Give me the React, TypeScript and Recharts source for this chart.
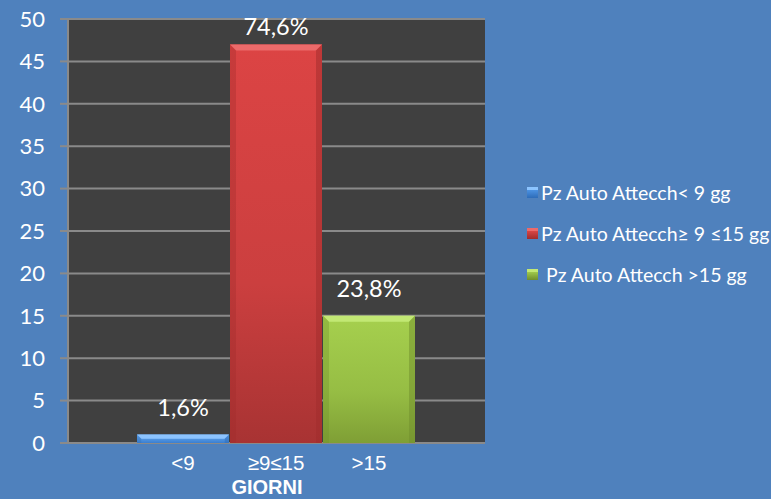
import { BarChart, Bar, XAxis, YAxis, CartesianGrid, LabelList } from "recharts";

const categories = ["<9", "≥9≤15", ">15"];
const seriesNames = ["Pz Auto Attecch< 9 gg", "Pz Auto Attecch≥ 9 ≤15 gg", " Pz Auto Attecch >15 gg"];
const counts = [1, 47, 15];
const percentLabels = ["1,6%", "74,6%", "23,8%"];
const yTicks = [0, 5, 10, 15, 20, 25, 30, 35, 40, 45, 50];

const keys = ["lt9", "mid", "gt15"];
const colors = ["#4a90e0", "#d54444", "#9dc64a"];
const lights = ["#8cc4ff", "#ec6a6a", "#c2e874"];
const darks = ["#2e6cb8", "#a02c2c", "#6f8e2c"];
const gradIds = ["gBlue", "gRed", "gGreen"];

const data = [
  keys.reduce((row: Record<string, number | string>, k, i) => {
    row[k] = counts[i];
    return row;
  }, { name: "GIORNI" }),
];

// bar with a small bevel on top and sides, like the office 3d preset
const bevelShape = (i: number) => (props: any) => {
  const { x, y, width, height } = props;
  if (!height || height <= 0) return <g />;
  const b = Math.min(6, height / 2, width / 2);
  return (
    <g>
      <rect x={x} y={y} width={width} height={height} fill={`url(#${gradIds[i]})`} />
      <polygon points={`${x},${y} ${x + width},${y} ${x + width - b},${y + b} ${x + b},${y + b}`} fill={lights[i]} />
      <polygon points={`${x},${y} ${x + b},${y + b} ${x + b},${y + height} ${x},${y + height}`} fill={darks[i]} opacity={0.35} />
      <polygon
        points={`${x + width},${y} ${x + width - b},${y + b} ${x + width - b},${y + height} ${x + width},${y + height}`}
        fill={darks[i]}
        opacity={0.5}
      />
    </g>
  );
};

const LegendBox = () => (
  <div
    style={{
      position: "absolute",
      left: 527,
      top: 172,
      fontFamily: "Lato, sans-serif",
      fontSize: 19.5,
      color: "#fff",
    }}
  >
    {seriesNames.map((n, i) => (
      <div key={n} style={{ display: "flex", alignItems: "center", height: 41 }}>
        <span
          style={{
            flexShrink: 0,
            width: 11,
            height: 11,
            marginRight: 3,
            boxSizing: "border-box",
            background: `linear-gradient(180deg, ${lights[i]} 0%, ${lights[i]} 30%, ${colors[i]} 31%, ${darks[i]} 100%)`,
          }}
        />
        <span style={{ whiteSpace: "pre" }}>{n}</span>
      </div>
    ))}
  </div>
);

const catLabel = (i: number) => (props: any) => {
  const { x, width, viewBox } = props;
  const vb = viewBox || {};
  const bottom = (vb.y ?? 0) + (vb.height ?? 0);
  return (
    <text
      x={x + width / 2}
      y={bottom + 27}
      textAnchor="middle"
      fill="#fff"
      fontSize={20.5}
      fontFamily="Liberation Sans, Arial, sans-serif"
    >
      {categories[i]}
    </text>
  );
};

export default function App() {
  return (
    <div style={{ position: "absolute", left: 0, top: 0, width: 771, height: 499, background: "#4f81bd" }}>
      <BarChart
        width={771}
        height={499}
        data={data}
        margin={{ top: 19, right: 286, bottom: 56, left: 0 }}
        barCategoryGap={69}
        barGap={1}
      >
        <defs>
          <linearGradient id="gBlue" x1="0" y1="0" x2="0" y2="1">
            <stop offset="0" stopColor="#6aaef5" />
            <stop offset="1" stopColor="#3b7fd0" />
          </linearGradient>
          <linearGradient id="gRed" x1="0" y1="0" x2="0" y2="1">
            <stop offset="0" stopColor="#dc4444" />
            <stop offset="0.6" stopColor="#cb3f3f" />
            <stop offset="1" stopColor="#a83333" />
          </linearGradient>
          <linearGradient id="gGreen" x1="0" y1="0" x2="0" y2="1">
            <stop offset="0" stopColor="#a6d04e" />
            <stop offset="0.6" stopColor="#96bd44" />
            <stop offset="1" stopColor="#7f9f35" />
          </linearGradient>
        </defs>
        <CartesianGrid vertical={false} stroke="#8a8a8a" strokeWidth={2} fill="#404040" fillOpacity={1} />
        <XAxis
          dataKey="name"
          tick={false}
          tickLine={false}
          axisLine={{ stroke: "#8a8a8a", strokeWidth: 2 }}
          height={0}
        />
        <YAxis
          domain={[0, 50]}
          ticks={yTicks}
          width={68}
          interval={0}
          axisLine={{ stroke: "#8a8a8a", strokeWidth: 2 }}
          tickLine={{ stroke: "#8a8a8a", strokeWidth: 2 }}
          tickSize={8}
          tickMargin={15}
          tick={{ fill: "#fff", fontSize: 22, fontFamily: "Lato, sans-serif" }}
        />
        {keys.map((k, i) => (
          <Bar key={k} dataKey={k} name={seriesNames[i]} shape={bevelShape(i)} isAnimationActive={false}>
            <LabelList
              dataKey={k}
              content={(p: any) => (
                <text
                  x={p.x + p.width / 2}
                  y={Math.max(p.y - 19, 35)}
                  textAnchor="middle"
                  fill="#fff"
                  fontSize={23.5}
                  fontFamily="Lato, sans-serif"
                >
                  {percentLabels[i]}
                </text>
              )}
            />
            <LabelList dataKey={k} content={catLabel(i)} />
          </Bar>
        ))}
        <text
          x={267}
          y={494}
          textAnchor="middle"
          fill="#fff"
          fontSize={20}
          fontWeight="bold"
          fontFamily="Liberation Sans, Arial, sans-serif"
        >
          GIORNI
        </text>
      </BarChart>
      <LegendBox />
    </div>
  );
}
